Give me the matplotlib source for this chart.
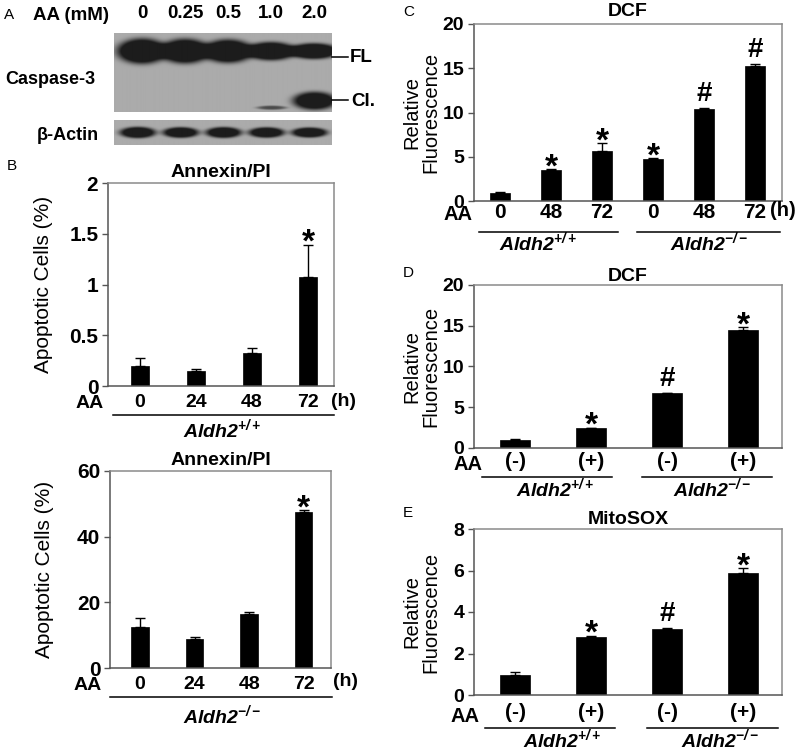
import numpy as np
import matplotlib
matplotlib.use('Agg')
import matplotlib.pyplot as plt
from matplotlib.lines import Line2D

plt.rcParams['font.family'] = ['Liberation Sans', 'DejaVu Sans']
plt.rcParams['mathtext.fontset'] = 'custom'
plt.rcParams['mathtext.rm'] = 'Liberation Sans'
plt.rcParams['mathtext.it'] = 'Liberation Sans:italic'
plt.rcParams['mathtext.bf'] = 'Liberation Sans:bold'
plt.rcParams['mathtext.bfit'] = 'Liberation Sans:italic:bold'

# ---------------- data ----------------
blot_lanes = ['0', '0.25', '0.5', '1.0', '2.0']
fl_signal = [1.0, 0.97, 0.92, 0.72, 0.62]
cl_signal = [0.0, 0.0, 0.0, 0.22, 0.95]
actin_signal = [0.95, 0.9, 0.92, 0.88, 0.85]

b_hours = ['0', '24', '48', '72']
b_wt = [0.20, 0.15, 0.33, 1.07]
b_wt_err = [0.075, 0.02, 0.045, 0.32]
b_wt_marks = ['', '', '', '*']
b_wt_yticks = [0, 0.5, 1, 1.5, 2]
b_ko = [12.6, 8.7, 16.5, 47.6]
b_ko_err = [2.5, 0.6, 0.6, 0.4]
b_ko_marks = ['', '', '', '*']
b_ko_yticks = [0, 20, 40, 60]

c_hours = ['0', '48', '72', '0', '48', '72']
c_vals = [0.95, 3.5, 5.7, 4.75, 10.4, 15.3]
c_err = [0.05, 0.06, 0.8, 0.06, 0.06, 0.2]
c_marks = ['', '*', '*', '*', '#', '#']
c_yticks = [0, 5, 10, 15, 20]

de_aa = ['(-)', '(+)', '(-)', '(+)']
d_vals = [1.0, 2.4, 6.7, 14.5]
d_err = [0.05, 0.08, 0.08, 0.3]
d_marks = ['', '*', '#', '*']
d_yticks = [0, 5, 10, 15, 20]
e_vals = [0.97, 2.81, 3.18, 5.87]
e_err = [0.15, 0.04, 0.04, 0.23]
e_marks = ['', '*', '#', '*']
e_yticks = [0, 2, 4, 6, 8]

wt_label = r'$\mathbfit{Aldh2}^{\mathbfit{+/+}}$'
ko_label = r'$\mathbfit{Aldh2}^{\mathbfit{-/-}}$'

# ---------------- helpers ----------------
W, H = 800, 752
fig = plt.figure(figsize=(8, 7.52), dpi=100)


def fbox(x0, y0, x1, y1):
    return [x0 / W, 1 - y1 / H, (x1 - x0) / W, (y1 - y0) / H]


def ftext(x, y, s, **kw):
    return fig.text(x / W, 1 - y / H, s, **kw)


def fline(x0, x1, y, lw=1.1, color='black'):
    fig.add_artist(Line2D([x0 / W, x1 / W], [1 - y / H, 1 - y / H],
                          transform=fig.transFigure, color=color, lw=lw))


def bar_panel(box, vals, errs, marks, labels, yticks, title, title_pad,
              ylabel, ylabel_x, width, xlim, tick_fs, xtick_fs, xpad,
              title_fs=14, ylabel_fs=14.5):
    ax = fig.add_axes(fbox(*box))
    x = np.arange(len(vals))
    ax.bar(x, vals, width=width, color='black', edgecolor='black', lw=0.5, zorder=2)
    ax.errorbar(x, vals, yerr=[np.zeros(len(vals)), errs], fmt='none',
                ecolor='black', elinewidth=1.0, capsize=3.5, capthick=1.0, zorder=3)
    ax.set_xlim(*xlim)
    ax.set_ylim(yticks[0], yticks[-1])
    ax.set_yticks(yticks)
    ax.set_yticklabels(['%g' % t for t in yticks], fontsize=tick_fs, fontweight='bold')
    ax.set_xticks(x)
    ax.set_xticklabels(labels, fontsize=xtick_fs, fontweight='bold')
    ax.tick_params(axis='x', length=0, pad=xpad)
    ax.tick_params(axis='y', length=4, width=1, color='#555555', pad=3, direction='out')
    for s in ['left', 'bottom']:
        ax.spines[s].set_color('#555555')
        ax.spines[s].set_linewidth(1.1)
    for s in ['top', 'right']:
        ax.spines[s].set_color('#8a8a8a')
        ax.spines[s].set_linewidth(1.1)
    ax.set_title(title, fontsize=title_fs, fontweight='bold', pad=title_pad)
    ax.set_ylabel(ylabel, fontsize=ylabel_fs, linespacing=1.0, multialignment='center')
    ax.yaxis.set_label_coords(ylabel_x, 0.5)
    for xi, v, e, m in zip(x, vals, errs, marks):
        if not m:
            continue
        if m == '*':
            ax.annotate(m, xy=(xi, v + e), xytext=(0, -5), textcoords='offset points',
                        ha='center', va='baseline', fontsize=24, fontweight='bold')
        else:
            ax.annotate(m, xy=(xi, v + e), xytext=(0, 5), textcoords='offset points',
                        ha='center', va='baseline', fontsize=20, fontweight='bold')
    return ax


# ---------------- panel A: western blot ----------------
def blot_image(bands, height_px, x0=-0.65, x1=4.42):
    xs = np.linspace(x0, x1, 440)
    ys = np.linspace(0, height_px, int(height_px * 2))
    X, Y = np.meshgrid(xs, ys)
    dens = np.zeros_like(X)
    for (cx, cy, hw, hh, amp) in bands:
        if amp <= 0 or hh <= 0:
            continue
        d = ((X - cx) / hw) ** 2 + ((Y - cy) / hh) ** 2
        dens += amp * np.exp(-d ** 2.2)
    bg, dark = 0.67, 0.11
    return bg - (bg - dark) * np.clip(dens, 0, 1)


lanes = np.arange(len(blot_lanes))
top_bands = []
for i, s in zip(lanes, fl_signal):
    top_bands.append((i, 18.0, 0.58, 12.5 * s, 1.6))
for i, s in zip(lanes, cl_signal):
    hh = 9.5 * s
    top_bands.append((i + 0.02, 77.0 - hh, 0.3 + 0.22 * s, hh, min(1.0, 2.2 * s) * 1.4))

axA = fig.add_axes(fbox(114, 33, 332, 112))
axA.imshow(blot_image(top_bands, 79), cmap='gray', vmin=0, vmax=1, aspect='auto',
           extent=(-0.65, 4.42, 79, 0), interpolation='bilinear')
axA.set_xlim(-0.65, 4.42)
axA.set_ylim(79, 0)
axA.xaxis.tick_top()
axA.set_xticks(lanes)
axA.set_xticklabels(blot_lanes, fontsize=13.5, fontweight='bold')
axA.tick_params(axis='x', length=0, pad=8)
axA.set_yticks([])
for s in axA.spines.values():
    s.set_visible(False)

act_bands = []
for i, s in zip(lanes, actin_signal):
    act_bands.append((i - 0.1, 12.5, 0.42, 6.0 * s, 1.4))
axA2 = fig.add_axes(fbox(114, 120, 332, 145))
axA2.imshow(blot_image(act_bands, 25), cmap='gray', vmin=0, vmax=1, aspect='auto',
            extent=(-0.65, 4.42, 25, 0), interpolation='bilinear')
axA2.set_xlim(-0.65, 4.42)
axA2.set_ylim(25, 0)
axA2.set_xticks([])
axA2.set_yticks([])
for s in axA2.spines.values():
    s.set_visible(False)

ftext(4, 15, 'A', fontsize=11, va='center', ha='left')
ftext(33, 15, 'AA (mM)', fontsize=13.5, fontweight='bold', va='center', ha='left')
ftext(5, 79, 'Caspase-3', fontsize=13, fontweight='bold', va='center', ha='left')
ftext(37, 136, 'β-Actin', fontsize=13, fontweight='bold', va='center', ha='left')
fline(332, 348, 57)
fline(332, 348, 100)
ftext(350, 58, 'FL', fontsize=13.5, fontweight='bold', va='center', ha='left')
ftext(351, 101, 'Cl.', fontsize=13.5, fontweight='bold', va='center', ha='left')

# ---------------- panel B ----------------
ftext(7, 166, 'B', fontsize=11, va='center', ha='left')
bar_panel((108, 183, 334, 386), b_wt, b_wt_err, b_wt_marks, b_hours, b_wt_yticks,
          'Annexin/PI', 4.5, 'Apoptotic Cells (%)', -0.245, 0.32, (-0.57, 3.46),
          15, 14, 5.5, title_fs=14, ylabel_fs=15)
ftext(90, 404, 'AA', fontsize=14, fontweight='bold', va='center', ha='center')
ftext(343, 402, '(h)', fontsize=14, fontweight='bold', va='center', ha='center')
fline(113, 334, 415)
ftext(222, 429, wt_label, fontsize=14, va='center', ha='center')

bar_panel((110, 471, 331, 668), b_ko, b_ko_err, b_ko_marks, b_hours, b_ko_yticks,
          'Annexin/PI', 4.5, 'Apoptotic Cells (%)', -0.255, 0.32, (-0.55, 3.5),
          15, 14, 5.5, title_fs=14, ylabel_fs=15)
ftext(88, 685, 'AA', fontsize=14, fontweight='bold', va='center', ha='center')
ftext(345, 682, '(h)', fontsize=14, fontweight='bold', va='center', ha='center')
fline(110, 332, 697)
ftext(222, 715, ko_label, fontsize=14, va='center', ha='center')

# ---------------- panel C ----------------
ftext(403, 12, 'C', fontsize=11, va='center', ha='left')
bar_panel((474, 24, 782, 201), c_vals, c_err, c_marks, c_hours, c_yticks,
          'DCF', 6, 'Relative\nFluorescence', -0.11, 0.4, (-0.51, 5.53),
          14, 15, 1.5, title_fs=14)
ftext(458, 214, 'AA', fontsize=14.5, fontweight='bold', va='center', ha='center')
ftext(783, 211, '(h)', fontsize=14.5, fontweight='bold', va='center', ha='center')
fline(479, 618, 232)
fline(637, 780, 232)
ftext(538, 242, wt_label, fontsize=14, va='center', ha='center')
ftext(709, 242, ko_label, fontsize=14, va='center', ha='center')

# ---------------- panel D ----------------
ftext(403, 273, 'D', fontsize=11, va='center', ha='left')
bar_panel((474, 285, 782, 448), d_vals, d_err, d_marks, de_aa, d_yticks,
          'DCF', 3, 'Relative\nFluorescence', -0.11, 0.4, (-0.54, 3.51),
          14, 15, 3, title_fs=14)
ftext(468, 465, 'AA', fontsize=14.5, fontweight='bold', va='center', ha='center')
fline(482, 612, 477)
fline(642, 772, 477)
ftext(555, 488, wt_label, fontsize=14, va='center', ha='center')
ftext(712, 488, ko_label, fontsize=14, va='center', ha='center')

# ---------------- panel E ----------------
ftext(403, 513, 'E', fontsize=11, va='center', ha='left')
bar_panel((474, 529, 782, 695), e_vals, e_err, e_marks, de_aa, e_yticks,
          'MitoSOX', 3.5, 'Relative\nFluorescence', -0.11, 0.4, (-0.54, 3.51),
          14, 15, 6, title_fs=14)
ftext(465, 717, 'AA', fontsize=14.5, fontweight='bold', va='center', ha='center')
fline(485, 615, 728)
fline(647, 778, 728)
ftext(562, 739, wt_label, fontsize=14, va='center', ha='center')
ftext(720, 739, ko_label, fontsize=14, va='center', ha='center')

fig.savefig('out.png', dpi=100, facecolor='white')
